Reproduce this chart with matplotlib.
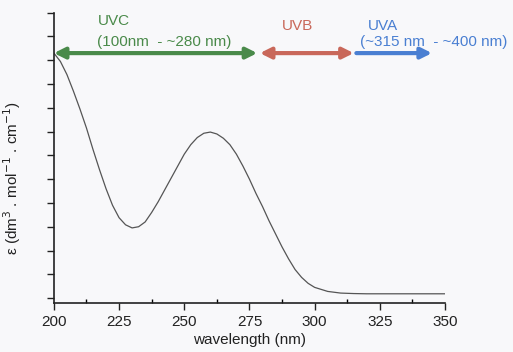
import matplotlib
matplotlib.use("Agg")
import matplotlib.pyplot as plt
from matplotlib.ticker import MultipleLocator

plt.rcParams['font.family'] = ['Liberation Sans', 'DejaVu Sans']

wavelength = [200, 202.5, 205, 207.5, 210, 212.5, 215, 217.5, 220, 222.5, 225, 227.5,
              230, 232.5, 235, 237.5, 240, 242.5, 245, 247.5, 250, 252.5, 255, 257.5,
              260, 262.5, 265, 267.5, 270, 272.5, 275, 277.5, 280, 282.5, 285, 287.5,
              290, 292.5, 295, 297.5, 300, 305, 310, 315, 320, 330, 340, 350]
epsilon = [10.3, 9.95, 9.4, 8.7, 7.95, 7.15, 6.25, 5.4, 4.6, 3.9, 3.38, 3.08,
           2.95, 3.0, 3.2, 3.6, 4.05, 4.55, 5.05, 5.55, 6.05, 6.45, 6.75, 6.93,
           6.98, 6.9, 6.72, 6.45, 6.05, 5.55, 5.0, 4.4, 3.85, 3.25, 2.7, 2.15,
           1.65, 1.2, 0.87, 0.62, 0.45, 0.28, 0.21, 0.19, 0.18, 0.18, 0.18, 0.18]

bands = ["UVC", "UVB", "UVA"]
band_ranges = ["(100nm  - ~280 nm)", "", "(~315 nm  - ~400 nm)"]
band_starts = [200, 279, 316]
band_ends = [278, 315, 345]
band_colors = ["#4a8a4a", "#c9685a", "#4a7fd2"]
band_styles = ["<|-|>", "<|-|>", "-|>"]
label_x = [216.9, 287.5, 320.4]
range_x = [216.5, 0, 317.4]
label_y = [11.64, 11.45, 11.45]
arrow_y = 10.3

bg = "#f8f8fa"
fig = plt.figure(figsize=(5.13, 3.52), dpi=100, facecolor=bg)
ax = fig.add_axes([0.105, 0.139, 0.7625, 0.825], facecolor=bg)

ax.plot(wavelength, epsilon, color="#555555", lw=0.9)

for i in range(3):
    ax.annotate("", xy=(band_ends[i], arrow_y), xytext=(band_starts[i], arrow_y),
                arrowprops=dict(arrowstyle=band_styles[i], color=band_colors[i],
                                lw=3, mutation_scale=16, shrinkA=0, shrinkB=0),
                annotation_clip=False)
    ax.text(label_x[i], label_y[i], bands[i], color=band_colors[i], fontsize=11,
            va="center", ha="left", clip_on=False)
    if band_ranges[i]:
        ax.text(range_x[i], 10.78, band_ranges[i], color=band_colors[i], fontsize=11,
                va="center", ha="left", clip_on=False)

ax.set_xlim(200, 350)
ax.set_ylim(-0.21, 12)
ax.xaxis.set_major_locator(MultipleLocator(25))
ax.xaxis.set_minor_locator(MultipleLocator(12.5))
ax.yaxis.set_major_locator(MultipleLocator(1))
ax.set_yticklabels([])
ax.tick_params(axis="x", which="major", direction="out", length=5, width=1, labelsize=11, colors="#222222")
ax.tick_params(axis="x", which="minor", direction="in", length=3, width=1)
ax.tick_params(axis="y", which="major", direction="out", length=5, width=1, colors="#222222")
for s in ["top", "right"]:
    ax.spines[s].set_visible(False)
for s in ["left", "bottom"]:
    ax.spines[s].set_color("#222222")
    ax.spines[s].set_linewidth(1.2)

xl = ax.set_xlabel("wavelength (nm)", fontsize=11, color="#222222")
xl.set_va("center")
ax.xaxis.set_label_coords(0.5, -0.128)
yl = ax.set_ylabel(r"ε (dm$^3$ . mol$^{-1}$ . cm$^{-1}$)", fontsize=11, color="#222222")
yl.set_va("center")
ax.yaxis.set_label_coords(-0.107, 0.43)

fig.savefig("out.png", dpi=100, facecolor=bg)
